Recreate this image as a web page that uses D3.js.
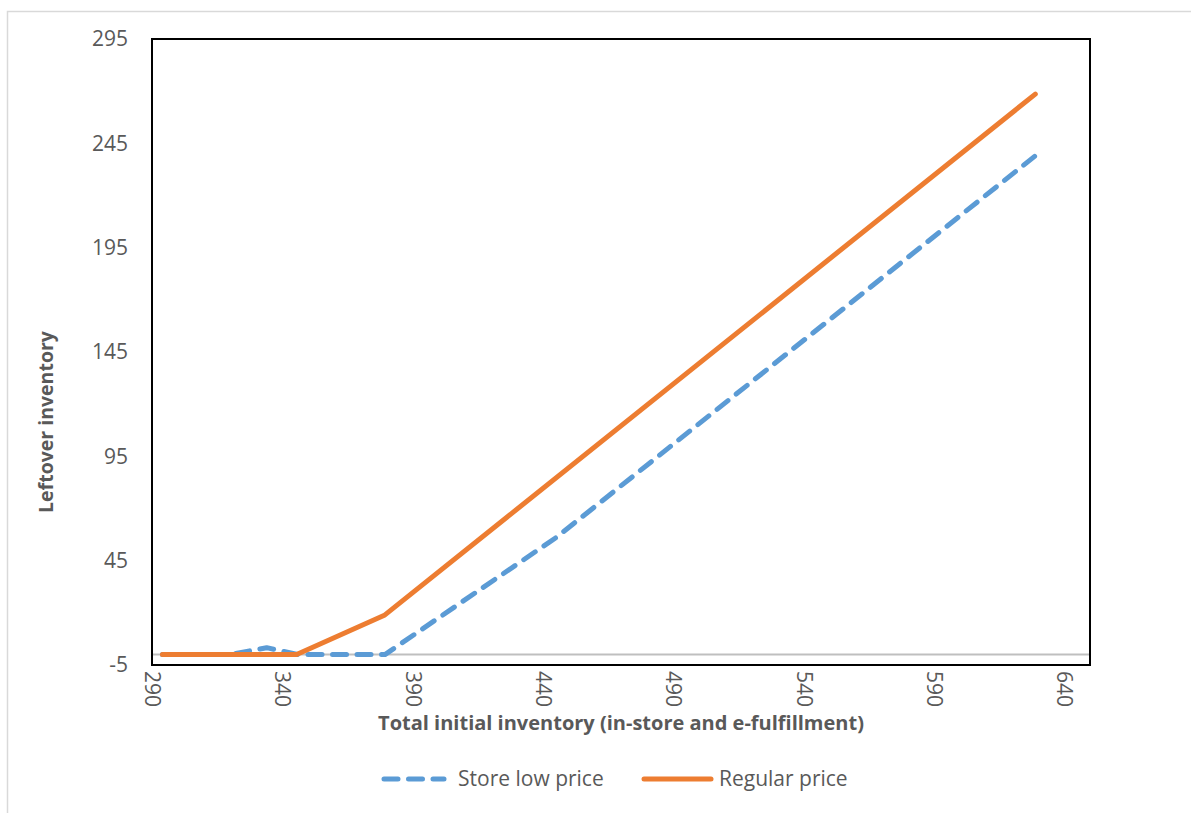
<!DOCTYPE html>
<html>
<head>
<meta charset="utf-8">
<script src="https://cdn.jsdelivr.net/npm/d3@7"></script>
<style>
  html, body { margin: 0; padding: 0; background: #fff; }
  svg { display: block; }
  text { font-family: "Open Sans", sans-serif; fill: #595959; }
</style>
</head>
<body>
<svg id="chart" width="1191" height="813"></svg>
<script>
// ---- data ----
const xTicks = [290, 340, 390, 440, 490, 540, 590, 640];
const yTicks = [-5, 45, 95, 145, 195, 245, 295];
const seriesNames = ["Store low price", "Regular price"];
const storeLowX = [294, 320, 334, 346, 379.4, 445, 629];
const storeLowY = [0, 0, 3.3, 0, 0, 56, 239];
const regularX = [294, 345.5, 379.4, 629];
const regularY = [0, 0, 19, 268.6];

(function () {
const svg = d3.select("#chart");
const W = 1191, H = 813;
const pL = 152, pR = 1090, pT = 39, pB = 665;

const x = d3.scaleLinear().domain([290, 650]).range([pL, pR]);
const y = d3.scaleLinear().domain([-5, 295]).range([pB, pT]);

// outer chart area border
svg.append("rect")
  .attr("x", 7.5).attr("y", 11.5)
  .attr("width", W + 20).attr("height", H + 20)
  .attr("fill", "#fff").attr("stroke", "#d9d9d9").attr("stroke-width", 1.5);

// zero line
svg.append("line")
  .attr("x1", pL).attr("x2", pR)
  .attr("y1", y(0)).attr("y2", y(0))
  .attr("stroke", "#bfbfbf").attr("stroke-width", 2);

// y axis labels
const yAxis = d3.axisLeft(y).tickValues(yTicks).tickSize(0).tickPadding(24)
  .tickFormat(d => String(d));
const gy = svg.append("g").attr("transform", `translate(${pL},0)`).call(yAxis);
gy.select(".domain").remove();
gy.selectAll("text")
  .style("font-family", "'Open Sans', sans-serif")
  .style("font-size", "21px").style("fill", "#595959");

// x axis labels (rotated)
const xAxis = d3.axisBottom(x).tickValues(xTicks).tickSize(0)
  .tickFormat(d => String(d));
const gx = svg.append("g").attr("transform", `translate(0,${pB})`).call(xAxis);
gx.select(".domain").remove();
gx.selectAll("text")
  .style("font-family", "'Open Sans', sans-serif")
  .style("font-size", "21px").style("fill", "#595959")
  .attr("transform", "rotate(90)")
  .attr("text-anchor", "start")
  .attr("x", 6).attr("y", 0).attr("dy", "0.35em");

// lines
const line = d3.line().x(d => x(d[0])).y(d => y(d[1]));
const lowData = storeLowX.map((v, i) => [v, storeLowY[i]]);
const regData = regularX.map((v, i) => [v, regularY[i]]);

svg.append("path").datum(lowData)
  .attr("d", line).attr("fill", "none")
  .attr("stroke", "#5B9BD5").attr("stroke-width", 5)
  .attr("stroke-dasharray", "14,10.5")
  .attr("stroke-linecap", "round").attr("stroke-linejoin", "round");

svg.append("path").datum(regData)
  .attr("d", line).attr("fill", "none")
  .attr("stroke", "#ED7D31").attr("stroke-width", 5)
  .attr("stroke-linecap", "round").attr("stroke-linejoin", "round");

// plot frame
svg.append("rect")
  .attr("x", pL).attr("y", pT)
  .attr("width", pR - pL).attr("height", pB - pT)
  .attr("fill", "none").attr("stroke", "#000").attr("stroke-width", 2);

// axis titles
svg.append("text")
  .attr("x", (pL + pR) / 2).attr("y", 730)
  .attr("text-anchor", "middle")
  .style("font-size", "20px").style("font-weight", "bold")
  .text("Total initial inventory (in-store and e-fulfillment)");

svg.append("text")
  .attr("transform", "translate(53,422) rotate(-90)")
  .attr("text-anchor", "middle")
  .style("font-size", "19.5px").style("font-weight", "bold")
  .text("Leftover inventory");

// legend
const legY = 779;
const leg = svg.append("g");
leg.append("line")
  .attr("x1", 384).attr("x2", 444).attr("y1", legY).attr("y2", legY)
  .attr("stroke", "#5B9BD5").attr("stroke-width", 5)
  .attr("stroke-dasharray", "14,10.5").attr("stroke-linecap", "round");
leg.append("text").attr("x", 458).attr("y", legY).attr("dy", "0.35em")
  .style("font-size", "21px").text(seriesNames[0]);
leg.append("line")
  .attr("x1", 644).attr("x2", 711).attr("y1", legY).attr("y2", legY)
  .attr("stroke", "#ED7D31").attr("stroke-width", 5).attr("stroke-linecap", "round");
leg.append("text").attr("x", 719).attr("y", legY).attr("dy", "0.35em")
  .style("font-size", "21px").text(seriesNames[1]);
})();
</script>
</body>
</html>
